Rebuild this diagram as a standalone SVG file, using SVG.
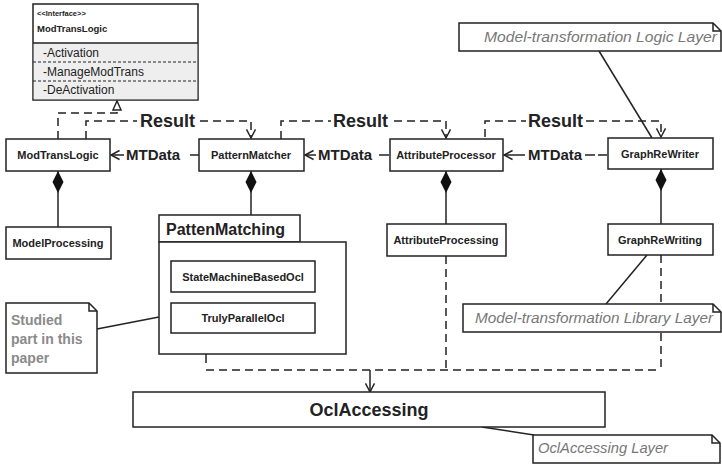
<svg xmlns="http://www.w3.org/2000/svg" width="722" height="465" viewBox="0 0 722 465">
<defs>
<style>
.box{fill:#fff;stroke:#222;stroke-width:1.5}
.lbl{font-family:"Liberation Sans",Arial,sans-serif;font-weight:bold;font-size:11px;fill:#222;text-anchor:middle}
.etx{font-family:"Liberation Sans",Arial,sans-serif;font-weight:bold;fill:#222}
.dash{fill:none;stroke:#222;stroke-width:1.5;stroke-dasharray:8 5}
.solid{fill:none;stroke:#222;stroke-width:1.5}
.note{fill:#fff;stroke:#222;stroke-width:1.5}
.ntx{font-family:"Liberation Sans",Arial,sans-serif;font-style:italic;fill:#777}
.attr{font-family:"Liberation Sans",Arial,sans-serif;font-size:12px;fill:#222}
</style>
<marker id="arr" viewBox="0 0 10 10" refX="9.5" refY="5" markerWidth="9" markerHeight="9" markerUnits="userSpaceOnUse" orient="auto" overflow="visible">
<path d="M0,0 L9.5,5 L0,10" fill="none" stroke="#222" stroke-width="1.6"/>
</marker>
<marker id="tri" viewBox="0 0 10 10" refX="10" refY="5" markerWidth="9" markerHeight="9" markerUnits="userSpaceOnUse" orient="auto" overflow="visible">
<path d="M0,0.5 L10,5 L0,9.5 Z" fill="#fff" stroke="#222" stroke-width="1.6"/>
</marker>
<marker id="dia" viewBox="0 0 22 11" refX="0" refY="5.5" markerWidth="22" markerHeight="11" markerUnits="userSpaceOnUse" orient="auto" overflow="visible">
<path d="M0,5.5 L11,0 L22,5.5 L11,11 Z" fill="#111"/>
</marker>
</defs>

<g id="connectors">
<!-- realization -->
<path class="dash" d="M58,139 V113 H117 V101" marker-end="url(#tri)"/>
<!-- Result 1 -->
<path class="dash" d="M86,139 V121 H137"/>
<text class="etx" x="140" y="127" font-size="18">Result</text>
<path class="dash" d="M200,121 H251 V138" marker-end="url(#arr)"/>
<!-- Result 2 -->
<path class="dash" d="M281,139 V121 H331"/>
<text class="etx" x="333" y="127" font-size="18">Result</text>
<path class="dash" d="M394,121 H446 V138" marker-end="url(#arr)"/>
<!-- Result 3 -->
<path class="dash" d="M485,137 V121 H526"/>
<path class="solid" d="M487,147 H497"/>
<text class="etx" x="528" y="127" font-size="18">Result</text>
<path class="dash" d="M586,121 H661 V137" marker-end="url(#arr)"/>
<!-- MTData 1 -->
<path class="solid" d="M124,155 H111" marker-end="url(#arr)"/>
<text class="etx" x="126" y="160" font-size="15">MTData</text>
<path class="solid" d="M190,155 H199"/>
<!-- MTData 2 -->
<path class="solid" d="M316,155 H305" marker-end="url(#arr)"/>
<text class="etx" x="318" y="160" font-size="15">MTData</text>
<path class="solid" d="M379,155 H389"/>
<!-- MTData 3 -->
<path class="solid" d="M525,155 H504" marker-end="url(#arr)"/>
<text class="etx" x="528" y="160" font-size="15">MTData</text>
<path class="solid" d="M585,155 H595 M598,155 H607"/>
<!-- compositions -->
<path class="solid" d="M58,171 V227" marker-start="url(#dia)"/>
<path class="solid" d="M251,171 V215" marker-start="url(#dia)"/>
<path class="solid" d="M446,171 V224" marker-start="url(#dia)"/>
<path class="solid" d="M661,169 V224" marker-start="url(#dia)"/>
<!-- note links -->
<path class="solid" d="M599,51 L652,138"/>
<path class="solid" d="M647,255 L606,304"/>
<path class="solid" d="M97,329 L159,317"/>
<path class="solid" d="M482,427 L534,435"/>
<!-- dependencies to OclAccessing -->
<path class="solid" d="M206,354 V363"/>
<path class="dash" d="M206,370 H661"/>
<path class="dash" d="M446,256 V370"/>
<path class="dash" d="M661,255 V370"/>
<path class="solid" d="M370,370 V392" marker-end="url(#arr)"/>
</g>

<g id="IModTransLogic">
<rect class="box" x="33" y="4" width="165" height="96"/>
<rect x="33.75" y="43" width="163.5" height="56.25" fill="#eeeeee"/>
<line x1="33" y1="43" x2="198" y2="43" stroke="#222" stroke-width="1.5"/>
<line x1="33" y1="62" x2="198" y2="62" stroke="#222" stroke-width="1" stroke-dasharray="3 2"/>
<line x1="33" y1="81" x2="198" y2="81" stroke="#222" stroke-width="1" stroke-dasharray="3 2"/>
<text x="37" y="16" font-family="Liberation Sans,Arial,sans-serif" font-weight="bold" font-size="7.5" fill="#222">&lt;&lt;Interface&gt;&gt;</text>
<text x="37" y="32" font-family="Liberation Sans,Arial,sans-serif" font-weight="bold" font-size="9.5" fill="#222">ModTransLogic</text>
<text class="attr" x="43" y="57">-Activation</text>
<text class="attr" x="43" y="76">-ManageModTrans</text>
<text class="attr" x="43" y="94">-DeActivation</text>
</g>

<g id="ModTransLogic">
<rect class="box" x="6" y="139" width="104" height="32"/>
<text class="lbl" x="58" y="159">ModTransLogic</text>
</g>
<g id="PatternMatcher">
<rect class="box" x="199" y="139" width="105" height="32"/>
<text class="lbl" x="251" y="159">PatternMatcher</text>
</g>
<g id="AttributeProcessor">
<rect class="box" x="390" y="139" width="113" height="32"/>
<text class="lbl" x="446" y="159">AttributeProcessor</text>
</g>
<g id="GraphReWriter">
<rect class="box" x="608" y="138" width="105" height="31"/>
<text class="lbl" x="660" y="158">GraphReWriter</text>
</g>
<g id="ModelProcessing">
<rect class="box" x="6" y="227" width="105" height="32"/>
<text class="lbl" x="58" y="247">ModelProcessing</text>
</g>
<g id="PattenMatching">
<rect class="box" x="159" y="215" width="141" height="27"/>
<rect class="box" x="159" y="242" width="187" height="112"/>
<text class="etx" x="166" y="235" font-size="16">PattenMatching</text>
</g>
<g id="StateMachineBasedOcl">
<rect class="box" x="171" y="261" width="144" height="31"/>
<text class="lbl" x="243" y="281">StateMachineBasedOcl</text>
</g>
<g id="TrulyParallelOcl">
<rect class="box" x="171" y="303" width="144" height="30"/>
<text class="lbl" x="243" y="322">TrulyParallelOcl</text>
</g>
<g id="AttributeProcessing">
<rect class="box" x="387" y="224" width="119" height="32"/>
<text class="lbl" x="446" y="244">AttributeProcessing</text>
</g>
<g id="GraphReWriting">
<rect class="box" x="608" y="224" width="105" height="31"/>
<text class="lbl" x="660" y="244">GraphReWriting</text>
</g>
<g id="OclAccessing">
<rect class="box" x="133" y="392" width="472" height="35"/>
<text class="etx" x="369" y="416" font-size="18" text-anchor="middle">OclAccessing</text>
</g>

<g id="noteLogic">
<path class="note" d="M459,23 H713 L721,31 V51 H459 Z"/>
<path class="solid" d="M713,23 V31 H721"/>
<text class="ntx" x="484" y="42" font-size="15" textLength="233" lengthAdjust="spacingAndGlyphs">Model-transformation Logic Layer</text>
</g>
<g id="noteLibrary">
<path class="note" d="M463,304 H713 L721,312 V332 H463 Z"/>
<path class="solid" d="M713,304 V312 H721"/>
<text class="ntx" x="475" y="323" font-size="15" textLength="238" lengthAdjust="spacingAndGlyphs">Model-transformation Library Layer</text>
</g>
<g id="noteOcl">
<path class="note" d="M533,435 H712 L720,443 V463 H533 Z"/>
<path class="solid" d="M712,435 V443 H720"/>
<text class="ntx" x="538" y="453" font-size="14.5" textLength="130" lengthAdjust="spacingAndGlyphs">OclAccessing Layer</text>
</g>
<g id="noteStudied">
<path class="note" d="M6,303 H89 L97,311 V373 H6 Z"/>
<path class="solid" d="M89,303 V311 H97"/>
<text x="11" y="325" font-family="Liberation Sans,Arial,sans-serif" font-weight="bold" font-size="14" fill="#8a8a8a">Studied</text>
<text x="11" y="344" font-family="Liberation Sans,Arial,sans-serif" font-weight="bold" font-size="14" fill="#8a8a8a">part in this</text>
<text x="11" y="363" font-family="Liberation Sans,Arial,sans-serif" font-weight="bold" font-size="14" fill="#8a8a8a">paper</text>
</g>
</svg>
